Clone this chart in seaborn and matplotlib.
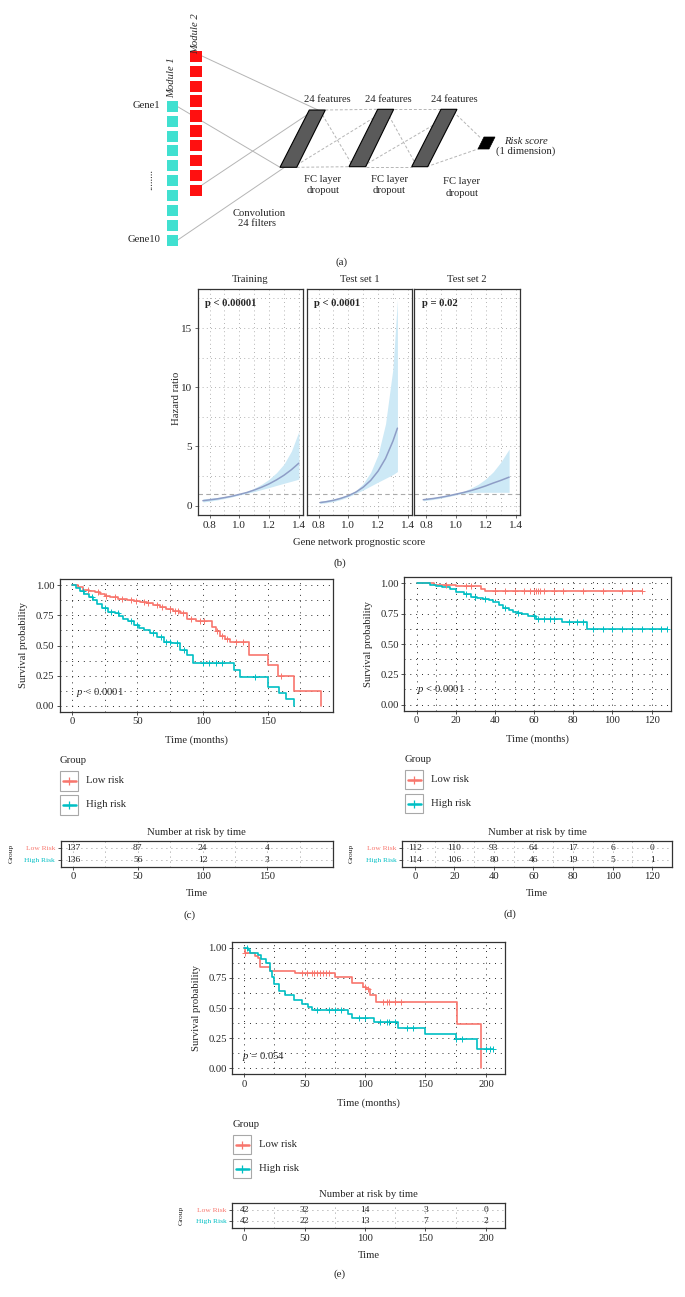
import numpy as np
import pandas as pd
import matplotlib
matplotlib.use("Agg")
import matplotlib.pyplot as plt
import seaborn as sns
from matplotlib.patches import Polygon, Rectangle
from matplotlib.ticker import FixedLocator

sns.set_style("white")
plt.rcParams["font.family"] = ["Liberation Serif", "DejaVu Serif"]
plt.rcParams["mathtext.fontset"] = "custom"
plt.rcParams["mathtext.rm"] = "Liberation Serif"
plt.rcParams["mathtext.it"] = "Liberation Serif:italic"
plt.rcParams["mathtext.bf"] = "Liberation Serif:bold"

RED = "#F8766D"
TEAL = "#00BFC4"

# ---------------- data ----------------
# (b) hazard ratio curves
train_x = [0.755, 0.80, 0.85, 0.90, 0.95, 1.00, 1.05, 1.10, 1.15, 1.20, 1.25, 1.30, 1.35, 1.40]
train_hr = [0.41, 0.48, 0.56, 0.67, 0.79, 0.94, 1.10, 1.31, 1.55, 1.83, 2.17, 2.56, 3.03, 3.58]
train_lo = [0.30, 0.37, 0.47, 0.59, 0.73, 0.89, 1.03, 1.18, 1.35, 1.52, 1.70, 1.88, 2.05, 2.23]
train_hi = [0.56, 0.62, 0.68, 0.76, 0.86, 0.99, 1.18, 1.46, 1.80, 2.22, 2.78, 3.50, 4.60, 6.25]

test1_x = [0.81, 0.85, 0.90, 0.95, 1.00, 1.05, 1.10, 1.15, 1.20, 1.25, 1.30, 1.33]
test1_hr = [0.25, 0.32, 0.44, 0.61, 0.83, 1.13, 1.55, 2.12, 2.91, 3.98, 5.45, 6.54]
test1_lo = [0.17, 0.23, 0.34, 0.51, 0.74, 1.02, 1.32, 1.65, 1.98, 2.30, 2.62, 2.87]
test1_hi = [0.37, 0.44, 0.56, 0.72, 0.93, 1.26, 1.85, 2.80, 4.30, 6.90, 11.6, 17.4]

test2_x = [0.78, 0.85, 0.90, 0.95, 1.00, 1.05, 1.10, 1.15, 1.20, 1.25, 1.30, 1.357]
test2_hr = [0.49, 0.60, 0.70, 0.82, 0.96, 1.10, 1.26, 1.45, 1.66, 1.90, 2.12, 2.40]
test2_lo = [0.40, 0.52, 0.63, 0.76, 0.90, 1.02, 1.08, 1.12, 1.12, 1.12, 1.12, 1.12]
test2_hi = [0.58, 0.68, 0.78, 0.89, 1.02, 1.20, 1.47, 1.80, 2.25, 2.85, 3.65, 4.77]

facet_titles = ["Training", "Test set 1", "Test set 2"]
facet_p = ["p < 0.00001", "p < 0.0001", "p = 0.02"]

# (c) KM
c_low_t = [0, 4, 8, 13, 17, 21, 25, 29, 35, 42, 47, 52, 57, 62, 67, 72, 77, 83, 88, 95, 107, 110, 113, 117, 121, 136, 150, 158, 170, 191]
c_low_s = [1.0, 0.985, 0.965, 0.955, 0.945, 0.93, 0.915, 0.90, 0.89, 0.876, 0.87, 0.862, 0.85, 0.835, 0.82, 0.807, 0.79, 0.77, 0.724, 0.70, 0.65, 0.62, 0.58, 0.555, 0.53, 0.42, 0.337, 0.25, 0.122, 0.0]
c_low_end = 191
c_low_cens = [12, 20, 26, 33, 38, 45, 49, 55, 58, 65, 69, 75, 79, 81, 85, 91, 98, 101, 111, 115, 119, 126, 131, 160]
c_high_t = [0, 3, 6, 9, 13, 16, 19, 23, 27, 33, 36, 39, 43, 47, 51, 55, 60, 65, 70, 76, 83, 88, 93, 124, 129, 150, 159, 164, 170]
c_high_s = [1.0, 0.975, 0.955, 0.93, 0.90, 0.875, 0.848, 0.81, 0.78, 0.766, 0.745, 0.724, 0.70, 0.67, 0.645, 0.627, 0.60, 0.572, 0.531, 0.52, 0.46, 0.42, 0.352, 0.30, 0.241, 0.158, 0.103, 0.054, 0.0]
c_high_end = 170
c_high_cens = [8, 15, 25, 30, 35, 45, 50, 62, 68, 72, 75, 80, 86, 100, 105, 110, 115, 140]

# (d) KM
d_low_t = [0, 9, 20, 33, 35]
d_low_s = [1.0, 0.99, 0.98, 0.955, 0.94]
d_low_end = 115
d_low_cens = [15, 25, 28, 40, 45, 50, 55, 58, 60, 61, 62, 63, 65, 70, 75, 85, 95, 105, 110, 115]
d_high_t = [0, 7, 10, 13, 17, 20, 24, 28, 31, 34, 37, 39, 42, 44, 47, 49, 52, 54, 57, 59, 61, 74, 87]
d_high_s = [1.0, 0.99, 0.98, 0.967, 0.95, 0.926, 0.91, 0.89, 0.88, 0.867, 0.86, 0.845, 0.82, 0.80, 0.78, 0.763, 0.755, 0.744, 0.735, 0.727, 0.708, 0.68, 0.623]
d_high_end = 128
d_high_cens = [25, 30, 35, 45, 52, 60, 62, 65, 68, 70, 78, 82, 85, 90, 95, 100, 105, 110, 115, 120, 125, 128]

# (e) KM
e_low_t = [0, 1, 9, 11, 13, 21, 42, 75, 89, 98, 101, 104, 109, 176, 196]
e_low_s = [1.0, 0.958, 0.935, 0.912, 0.837, 0.81, 0.788, 0.757, 0.71, 0.677, 0.655, 0.608, 0.552, 0.365, 0.0]
e_low_end = 196
e_low_cens = [1, 48, 52, 56, 58, 60, 63, 65, 68, 70, 100, 102, 115, 118, 120, 125, 130]
e_high_t = [0, 3, 5, 11, 14, 18, 21, 23, 25, 29, 34, 41, 48, 53, 56, 86, 89, 107, 127, 150, 175, 193]
e_high_s = [1.0, 0.98, 0.955, 0.94, 0.91, 0.87, 0.81, 0.755, 0.70, 0.645, 0.61, 0.57, 0.535, 0.51, 0.48, 0.45, 0.42, 0.38, 0.33, 0.285, 0.24, 0.157]
e_high_end = 206
e_high_cens = [2, 60, 70, 75, 80, 95, 100, 112, 118, 120, 125, 135, 140, 175, 180, 200, 203, 206]

# risk tables
c_times = [0, 50, 100, 150]
c_low_n = [137, 87, 24, 4]
c_high_n = [136, 56, 12, 3]
d_times = [0, 20, 40, 60, 80, 100, 120]
d_low_n = [112, 110, 93, 64, 17, 6, 0]
d_high_n = [114, 106, 80, 46, 19, 5, 1]
e_times = [0, 50, 100, 150, 200]
e_low_n = [42, 32, 14, 3, 0]
e_high_n = [42, 22, 13, 7, 2]

group_labels = ["Low risk", "High risk"]
table_rows = ["Low Risk", "High Risk"]

# ---------------- figure ----------------
W, H = 685, 1297
fig = plt.figure(figsize=(W / 100, H / 100), dpi=100)
FS = 7.7


def px_axes(x0, y0, x1, y1):
    return fig.add_axes([x0 / W, 1 - y1 / H, (x1 - x0) / W, (y1 - y0) / H])


def frame(ax, color="#333333", lw=0.9):
    for sp in ax.spines.values():
        sp.set_visible(True)
        sp.set_color(color)
        sp.set_linewidth(lw)


# ---- (b) hazard ratio facets ----
facet_boxes = [(197.7, 289, 303.3, 515), (306.7, 289, 412.3, 515), (414.3, 289, 520, 515)]
hr_sets = [(train_x, train_hr, train_lo, train_hi),
           (test1_x, test1_hr, test1_lo, test1_hi),
           (test2_x, test2_hr, test2_lo, test2_hi)]
for i, (box, (x, hr, lo, hi)) in enumerate(zip(facet_boxes, hr_sets)):
    ax = px_axes(*box)
    ax.fill_between(x, lo, hi, color="#CDE9F6", lw=0, zorder=2)
    ax.axhline(1, color="#AAAAAA", lw=0.8, ls=(0, (4, 3)), zorder=2.5)
    sns.lineplot(x=x, y=hr, ax=ax, color="#8E9DC6", lw=1.1, zorder=3)
    ax.set_xlim(0.72, 1.43)
    ax.set_ylim(-0.8, 18.3)
    ax.xaxis.set_major_locator(FixedLocator([0.8, 1.0, 1.2, 1.4]))
    ax.xaxis.set_minor_locator(FixedLocator([0.9, 1.1, 1.3]))
    ax.yaxis.set_major_locator(FixedLocator([0, 5, 10, 15]))
    ax.yaxis.set_minor_locator(FixedLocator([2.5, 7.5, 12.5, 17.5]))
    ax.set_xticklabels(["0.8", "1.0", "1.2", "1.4"])
    ax.set_yticklabels(["0", "5", "10", "15"])
    ax.set_xlabel("")
    ax.set_ylabel("")
    ax.grid(True, which="both", color="#9A9A9A", lw=0.6, ls=(0, (1, 4)))
    ax.set_axisbelow(True)
    ax.tick_params(which="major", direction="out", length=2.5, width=0.6, color="#555555",
                   labelsize=8, pad=1.5, bottom=True, left=(i == 0), labelleft=(i == 0))
    ax.tick_params(which="minor", length=0)
    frame(ax)


# ---- KM panels ----
def km_panel(box, xlim, xmajor, xminor, curves):
    ax = px_axes(*box)
    for t, s, end, cens, col in curves:
        tt = list(t) + [end]
        ss = list(s) + [s[-1]]
        sns.lineplot(x=tt, y=ss, ax=ax, color=col, lw=1.2, drawstyle="steps-post",
                     estimator=None, sort=False, legend=False, zorder=3)
        idx = np.searchsorted(np.array(t), np.array(cens), side="right") - 1
        sns.scatterplot(x=cens, y=np.array(s)[idx], ax=ax, marker="+", color=col,
                        s=16, linewidth=0.7, legend=False, zorder=4)
    ax.set_xlim(*xlim)
    ax.set_ylim(-0.05, 1.05)
    ax.xaxis.set_major_locator(FixedLocator(xmajor))
    ax.xaxis.set_minor_locator(FixedLocator(xminor))
    ax.yaxis.set_major_locator(FixedLocator([0, 0.25, 0.5, 0.75, 1.0]))
    ax.yaxis.set_minor_locator(FixedLocator([0.125, 0.375, 0.625, 0.875]))
    ax.set_xticklabels([str(v) for v in xmajor])
    ax.set_yticklabels(["0.00", "0.25", "0.50", "0.75", "1.00"])
    ax.set_xlabel("")
    ax.set_ylabel("")
    ax.grid(True, which="both", color="#2A2A2A", lw=0.7, ls=(0, (1, 5)))
    ax.set_axisbelow(True)
    ax.tick_params(which="major", direction="out", length=2.5, width=0.6, color="#333333",
                   labelsize=FS, pad=1.5, bottom=True, left=True)
    ax.tick_params(which="minor", length=0)
    frame(ax)
    return ax


def risk_table(box, xlim, xmajor, xminor, times, low_n, high_n):
    ax = px_axes(*box)
    for t, n in zip(times, low_n):
        ax.text(t, 2, str(n), ha="center", va="center", fontsize=6.8, color="#222222")
    for t, n in zip(times, high_n):
        ax.text(t, 1, str(n), ha="center", va="center", fontsize=6.8, color="#222222")
    ax.set_xlim(*xlim)
    ax.set_ylim(0.4, 2.6)
    ax.xaxis.set_major_locator(FixedLocator(xmajor))
    ax.xaxis.set_minor_locator(FixedLocator(xminor))
    ax.yaxis.set_major_locator(FixedLocator([1, 2]))
    ax.set_xticklabels([str(v) for v in xmajor])
    ax.set_yticklabels([table_rows[1], table_rows[0]])
    ax.get_yticklabels()[0].set_color(TEAL)
    ax.get_yticklabels()[1].set_color(RED)
    ax.grid(True, which="both", color="#777777", lw=0.6, ls=(0, (1, 5)))
    ax.set_axisbelow(True)
    ax.tick_params(axis="x", which="major", direction="out", length=2.5, width=0.6,
                   color="#333333", labelsize=FS, pad=1.5, bottom=True)
    ax.tick_params(axis="y", which="major", direction="out", length=2.5, width=0.6,
                   color="#333333", labelsize=5.4, pad=1.5, left=True)
    ax.tick_params(which="minor", length=0)
    frame(ax)
    return ax


km_panel((60, 579.3, 333.3, 711.7), (-9.5, 200.4), [0, 50, 100, 150], [25, 75, 125, 175],
         [(c_low_t, c_low_s, c_low_end, c_low_cens, RED),
          (c_high_t, c_high_s, c_high_end, c_high_cens, TEAL)])
risk_table((60.7, 840.7, 332.7, 866.7), (-9.5, 200.4), [0, 50, 100, 150], [25, 75, 125, 175],
           c_times, c_low_n, c_high_n)

km_panel((404.3, 577.3, 671, 710.7), (-6.3, 129.9), [0, 20, 40, 60, 80, 100, 120],
         [10, 30, 50, 70, 90, 110],
         [(d_low_t, d_low_s, d_low_end, d_low_cens, RED),
          (d_high_t, d_high_s, d_high_end, d_high_cens, TEAL)])
risk_table((402.3, 840.7, 671.7, 866.7), (-6.3, 129.9), [0, 20, 40, 60, 80, 100, 120],
           [10, 30, 50, 70, 90, 110], d_times, d_low_n, d_high_n)

km_panel((232.3, 941.7, 505, 1074.3), (-9.9, 215.8), [0, 50, 100, 150, 200], [25, 75, 125, 175],
         [(e_low_t, e_low_s, e_low_end, e_low_cens, RED),
          (e_high_t, e_high_s, e_high_end, e_high_cens, TEAL)])
risk_table((232.3, 1202.7, 505, 1228.3), (-9.9, 215.8), [0, 50, 100, 150, 200], [25, 75, 125, 175],
           e_times, e_low_n, e_high_n)

# ---- overlay for diagram, labels, legends ----
ov = fig.add_axes([0, 0, 1, 1])
ov.set_xlim(0, W)
ov.set_ylim(H, 0)
ov.axis("off")

# (a) diagram
LG = "#B5B5B5"
for (x0, y0, x1, y1) in [(202, 56, 318, 110), (177.7, 106.7, 280, 167.3),
                         (202, 185, 308.3, 114), (177.7, 240, 285, 167)]:
    ov.plot([x0, x1], [y0, y1], color=LG, lw=0.7, zorder=1)
for i in range(10):
    ov.add_patch(Rectangle((166.7, 100.7 + i * 14.9), 11, 11, fc="#40E0D0", ec="none", zorder=3))
    ov.add_patch(Rectangle((190.3, 50.7 + i * 14.9), 11.7, 11.3, fc="#FF1010", ec="none", zorder=3))
dashes = [((325.3, 110), (377.7, 109.3)), ((296.7, 167.3), (349, 166.7)),
          ((320, 110.7), (353.3, 166.7)), ((296.7, 165), (375, 117)),
          ((393.7, 109.3), (441, 109.3)), ((365.7, 166.7), (411.7, 166.7)),
          ((386.7, 111.7), (416.7, 166)), ((363.3, 166), (442, 120)),
          ((453.3, 111.7), (481, 138.3)), ((426.7, 166.7), (480, 148.3))]
for (a, b) in dashes:
    ov.plot([a[0], b[0]], [a[1], b[1]], color=LG, lw=0.7, ls=(0, (3, 2)), zorder=1)
for (tx0, tx1, bx0, bx1, ty, by) in [(309.3, 325.3, 280, 296.7, 110, 167.3),
                                     (377.7, 393.7, 349, 365.7, 109.3, 166.7),
                                     (441, 457, 411.7, 427.7, 109.3, 166.7)]:
    ov.add_patch(Polygon([(tx0, ty), (tx1, ty), (bx1, by), (bx0, by)], closed=True,
                         fc="#5A5A5A", ec="black", lw=0.8, zorder=2))
ov.add_patch(Polygon([(484, 137), (495, 137), (489, 149), (478, 149)], closed=True,
                     fc="black", ec="black", lw=0.5, zorder=2))

ov.text(172, 78, "Module 1", rotation=90, style="italic", fontsize=FS, ha="center", va="center")
ov.text(196, 34, "Module 2", rotation=90, style="italic", fontsize=FS, ha="center", va="center")
ov.text(160, 105.7, "Gene1", fontsize=FS, ha="right", va="center")
ov.text(160.7, 240, "Gene10", fontsize=FS, ha="right", va="center")
ov.text(149.3, 180, "........", rotation=90, fontsize=FS, ha="center", va="center")
for xc in [327.7, 388.3, 454]:
    ov.text(xc, 99, "24 features", fontsize=FS, ha="center", va="center")
for xc, yc in [(322.7, 179.3), (389.3, 179.3), (461.7, 181.7)]:
    ov.text(xc, yc, "FC layer", fontsize=FS, ha="center", va="center")
    ov.text(xc, yc + 11.5, "dropout", fontsize=FS, ha="center", va="center")
ov.text(259.3, 213.3, "Convolution", fontsize=FS, ha="center", va="center")
ov.text(257.3, 223.8, "24 filters", fontsize=FS, ha="center", va="center")
ov.text(526, 141, "Risk score", style="italic", fontsize=FS, ha="center", va="center")
ov.text(526, 151.5, "(1 dimension)", fontsize=FS, ha="center", va="center")
ov.text(342, 262, "(a)", fontsize=8, ha="center", va="center")

# (b) labels
for box, title, ptxt in zip(facet_boxes, facet_titles, facet_p):
    ov.text((box[0] + box[2]) / 2, 280, title, fontsize=FS, ha="center", va="center")
    ov.text(box[0] + 7.5, 303.3, ptxt, fontsize=FS, weight="bold", ha="left", va="center")
ov.text(176.7, 398, "Hazard ratio", rotation=90, fontsize=FS, ha="center", va="center")
ov.text(358.8, 542.7, "Gene network prognostic score", fontsize=FS, ha="center", va="center")
ov.text(340, 562.7, "(b)", fontsize=8, ha="center", va="center")


def km_labels(box, ylab_x, ptxt, pxy, leg_x, leg_y, tbox, group_x, time_y, lab, lab_xy):
    cx = (box[0] + box[2]) / 2
    ov.text(ylab_x, (box[1] + box[3]) / 2, "Survival probability", rotation=90,
            fontsize=FS, ha="center", va="center")
    ov.text(cx, box[3] + 28.5, "Time (months)", fontsize=FS, ha="center", va="center")
    ov.text(pxy[0], pxy[1], ptxt, fontsize=FS, ha="left", va="center")
    ov.text(leg_x, leg_y, "Group", fontsize=FS, ha="left", va="center")
    for k, (g, col) in enumerate(zip(group_labels, [RED, TEAL])):
        ky = leg_y + 10.5 + k * 24
        ov.add_patch(Rectangle((leg_x + 0.5, ky), 18, 19.5, fc="white", ec="#A8A8A8", lw=0.8))
        ov.plot([leg_x + 3, leg_x + 16], [ky + 9.75, ky + 9.75], color=col, lw=1.8)
        ov.plot([leg_x + 9.5], [ky + 9.75], marker="+", ms=6, mew=0.9, color=col)
        ov.text(leg_x + 26, ky + 9.5, g, fontsize=FS, ha="left", va="center")
    tcx = (tbox[0] + tbox[2]) / 2
    ov.text(tcx, tbox[1] - 8.2, "Number at risk by time", fontsize=FS, ha="center", va="center")
    ov.text(group_x, (tbox[1] + tbox[3]) / 2, "Group", rotation=90, fontsize=5.4,
            ha="center", va="center")
    ov.text(tcx, time_y, "Time", fontsize=FS, ha="center", va="center")
    ov.text(lab_xy[0], lab_xy[1], lab, fontsize=8, ha="center", va="center")


km_labels((60, 579.3, 333.3, 711.7), 23.3, r"$\it{p}$ < 0.0001", (76.5, 692.3), 60, 760.7,
          (60.7, 840.7, 332.7, 866.7), 11.7, 894, "(c)", (190, 915))
km_labels((404.3, 577.3, 671, 710.7), 368.3, r"$\it{p}$ < 0.0001", (417, 690), 405, 759.3,
          (402.3, 840.7, 671.7, 866.7), 351.7, 894, "(d)", (510, 914))
km_labels((232.3, 941.7, 505, 1074.3), 196.7, r"$\it{p}$ = 0.054", (242, 1056.7), 232.7, 1124.3,
          (232.3, 1202.7, 505, 1228.3), 181.7, 1256, "(e)", (339.3, 1274))

fig.savefig("out.png", dpi=100)
